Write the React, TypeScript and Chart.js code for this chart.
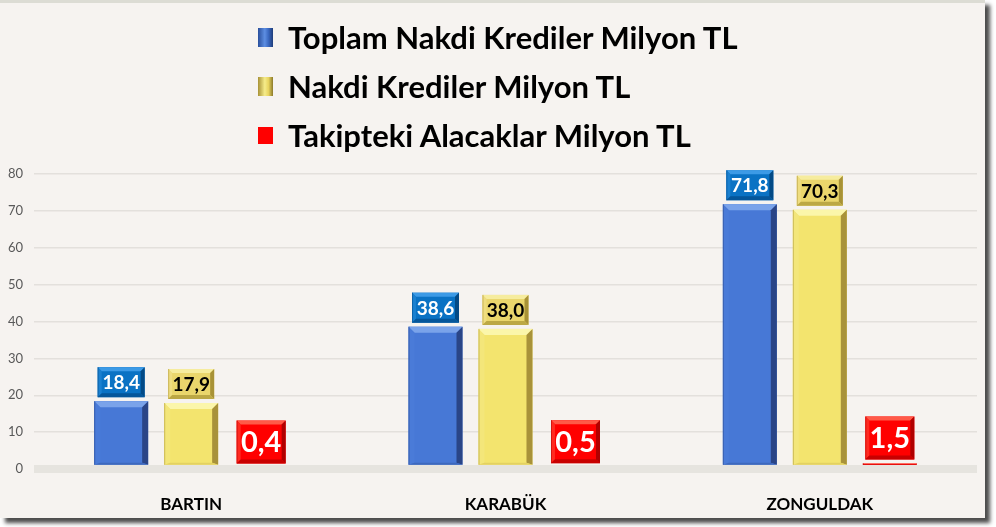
import React, { useEffect, useRef } from "react";
import { Chart, registerables } from "chart.js";

Chart.register(...registerables);

const categories = ["BARTIN", "KARABÜK", "ZONGULDAK"];
const seriesNames = [
  "Toplam Nakdi Krediler Milyon TL",
  "Nakdi Krediler Milyon TL",
  "Takipteki Alacaklar Milyon TL",
];
const toplamNakdi = [18.4, 38.6, 71.8];
const nakdi = [17.9, 38.0, 70.3];
const takipteki = [0.4, 0.5, 1.5];
const yMin = 0;
const yMax = 80;
const yStep = 10;

type Pal = { main: string; light: string; side: string; dark: string; bottom: string };
const barPal: Pal[] = [
  { main: "#4778d6", light: "#7aa3ea", side: "#4a7bd8", dark: "#2a4587", bottom: "#3d68bd" },
  { main: "#f3e46e", light: "#fbf6aa", side: "#f3e67a", dark: "#a8923a", bottom: "#e3d162" },
  { main: "#ff0000", light: "#ff6a55", side: "#ff1a10", dark: "#a00000", bottom: "#e00000" },
];
const boxPal: Pal[] = [
  { main: "#0a72c4", light: "#3c9ae6", side: "#1a80d0", dark: "#034a86", bottom: "#05569a" },
  { main: "#ead66c", light: "#f6ec9e", side: "#efdd80", dark: "#a89236", bottom: "#bca845" },
  { main: "#ff0000", light: "#ff5a48", side: "#ff2a20", dark: "#b00000", bottom: "#c80000" },
];
const labelText = ["#ffffff", "#000000", "#ffffff"];
const labelFont = [19, 19, 29];
const labelBox = [
  [47, 30],
  [46, 30],
  [49, 43],
];

function bevel(ctx: CanvasRenderingContext2D, l: number, t: number, r: number, btm: number, p: Pal, bw: number, bb: number) {
  const h = btm - t;
  const w = r - l;
  if (h <= 0) return;
  const b = Math.max(0, Math.min(bw, h / 2, w / 2));
  const bbt = Math.max(0, Math.min(bb, h / 2));
  ctx.fillStyle = p.main;
  ctx.fillRect(l, t, w, h);
  if (b <= 0) return;
  const poly = (pts: number[][], c: string) => {
    ctx.beginPath();
    ctx.moveTo(pts[0][0], pts[0][1]);
    for (let i = 1; i < pts.length; i++) ctx.lineTo(pts[i][0], pts[i][1]);
    ctx.closePath();
    ctx.fillStyle = c;
    ctx.fill();
  };
  poly([[l, t], [r, t], [r - b, t + b], [l + b, t + b]], p.light);
  poly([[l, t], [l + b, t + b], [l + b, btm - bbt], [l, btm]], p.side);
  poly([[r, t], [r, btm], [r - b, btm - bbt], [r - b, t + b]], p.dark);
  if (bbt > 0) poly([[l, btm], [r, btm], [r - b, btm - bbt], [l + b, btm - bbt]], p.bottom);
  // thin dark outline on left edge
  ctx.fillStyle = p.dark;
  ctx.globalAlpha = 0.5;
  ctx.fillRect(l, t, 1, h);
  ctx.globalAlpha = 1;
}

const fmt = (v: number) => v.toFixed(1).replace(".", ",");

const floorPlugin = {
  id: "floor",
  beforeDatasetsDraw(chart: any) {
    const { ctx, chartArea, scales } = chart;
    const y0 = scales.y.getPixelForValue(0);
    ctx.save();
    ctx.fillStyle = "#e6e4df";
    ctx.fillRect(chartArea.left, y0 - 4, chartArea.right - chartArea.left, 8);
    ctx.restore();
  },
};

const bevelPlugin = {
  id: "bevelBars",
  afterDatasetsDraw(chart: any) {
    const { ctx } = chart;
    ctx.save();
    chart.data.datasets.forEach((ds: any, di: number) => {
      const meta = chart.getDatasetMeta(di);
      meta.data.forEach((el: any, i: number) => {
        const w = el.width;
        const l = el.x - w / 2;
        const r = el.x + w / 2;
        const t = el.y;
        const btm = el.base - 3.5;
        bevel(ctx, l, t, r, btm, barPal[di], 6, 2);
        const [bw, bh] = labelBox[di];
        const boxBottom = t - 4;
        const bx = el.x - bw / 2;
        const by = boxBottom - bh;
        bevel(ctx, bx, by, bx + bw, boxBottom, boxPal[di], 4, 4);
        ctx.fillStyle = labelText[di];
        ctx.font = `bold ${labelFont[di]}px Lato, "Open Sans", sans-serif`;
        ctx.textAlign = "center";
        ctx.textBaseline = "middle";
        ctx.fillText(fmt(ds.data[i]), el.x, by + bh / 2 + 1);
      });
    });
    ctx.restore();
  },
};

export default function App() {
  const ref = useRef<HTMLCanvasElement | null>(null);
  useEffect(() => {
    document.body.style.margin = "0";
    const c = ref.current;
    if (!c) return;
    const chart = new Chart(c, {
      type: "bar",
      data: {
        labels: categories,
        datasets: [
          { label: seriesNames[0], data: toplamNakdi, backgroundColor: "rgba(0,0,0,0)" },
          { label: seriesNames[1], data: nakdi, backgroundColor: "rgba(0,0,0,0)" },
          { label: seriesNames[2], data: takipteki, backgroundColor: "rgba(0,0,0,0)" },
        ],
      },
      options: {
        animation: false,
        responsive: false,
        maintainAspectRatio: false,
        events: [],
        layout: { padding: { top: 174, left: 0, right: 19, bottom: 0 } },
        datasets: {
          bar: { categoryPercentage: 0.668, barPercentage: 0.771, borderWidth: 0 },
        },
        plugins: { legend: { display: false }, tooltip: { enabled: false }, title: { display: false } },
        scales: {
          x: {
            grid: { display: false },
            border: { display: false },
            ticks: {
              color: "#000000",
              font: { family: 'Lato, "Open Sans", sans-serif', size: 17, weight: "bold" },
              padding: 17,
            },
            afterFit: (s: any) => {
              s.height = 58;
            },
          },
          y: {
            min: yMin,
            max: yMax,
            grid: { color: "#e3e0dc", lineWidth: 1.5, drawTicks: false },
            border: { display: false },
            ticks: {
              stepSize: yStep,
              color: "#595959",
              font: { family: 'Lato, "Open Sans", sans-serif', size: 13 },
              padding: 11,
            },
            afterFit: (s: any) => {
              s.width = 34;
            },
          },
        },
      },
      plugins: [floorPlugin, bevelPlugin],
    });
    return () => chart.destroy();
  }, []);

  const markers = [
    "linear-gradient(to right, #2a4f9c 0%, #5d8ee2 45%, #3a68c0 70%, #1f3d7a 100%)",
    "linear-gradient(to right, #a89236 0%, #f6ec8a 45%, #e8d460 70%, #8c7a2a 100%)",
    "#ff0000",
  ];
  const centers = [37, 86, 135];

  return (
    <div style={{ position: "relative", width: 996, height: 527, background: "#ffffff", overflow: "hidden" }}>
      <div
        style={{
          position: "absolute",
          left: 0,
          top: 0,
          width: 985,
          height: 518,
          background: "#f6f3f0",
          borderTop: "3px solid #dcdcd4",
          boxSizing: "border-box",
          boxShadow: "5px 5px 4px rgba(0,0,0,0.7)",
        }}
      />
      <canvas ref={ref} width={996} height={527} style={{ position: "absolute", left: 0, top: 0, width: 996, height: 527 }} />
      {seriesNames.map((n, i) => (
        <div
          key={n}
          style={{
            position: "absolute",
            left: 258,
            top: centers[i] - 22,
            height: 44,
            display: "flex",
            alignItems: "center",
            whiteSpace: "nowrap",
          }}
        >
          <div style={{ width: 15, height: i === 2 ? 17 : 19, background: markers[i], marginRight: 15 }} />
          <span style={{ fontFamily: 'Lato, "Open Sans", sans-serif', fontWeight: 700, fontSize: 31, color: "#000" }}>{n}</span>
        </div>
      ))}
    </div>
  );
}
